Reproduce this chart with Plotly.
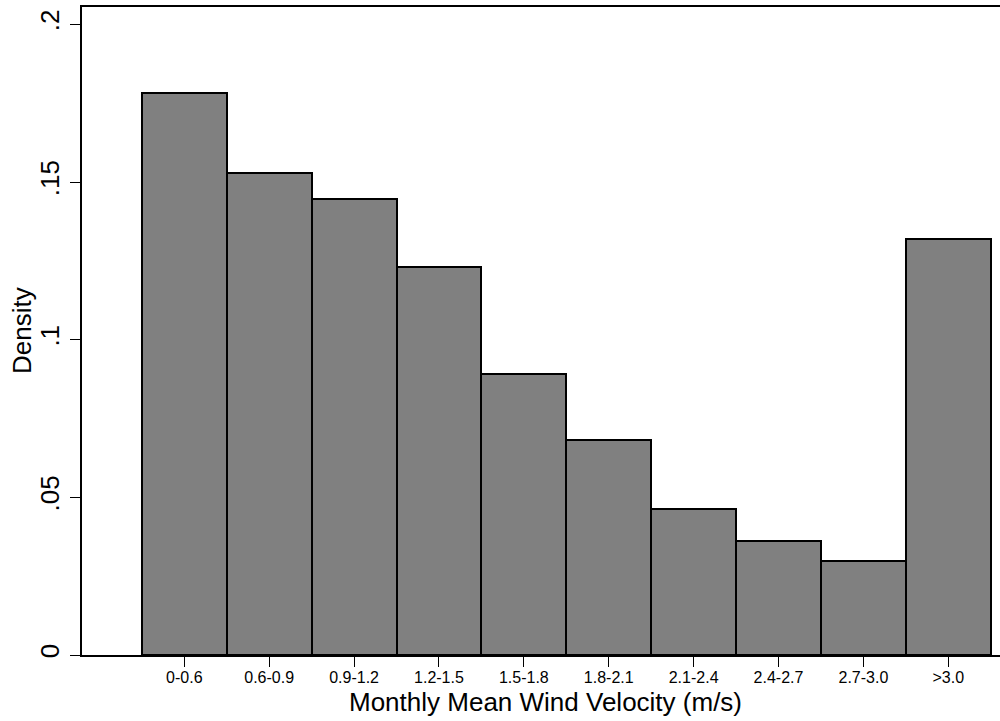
import plotly.graph_objects as go

# Wind velocity bins and their density
bins = ["0-0.6", "0.6-0.9", "0.9-1.2", "1.2-1.5", "1.5-1.8",
        "1.8-2.1", "2.1-2.4", "2.4-2.7", "2.7-3.0", ">3.0"]
density = [0.1783, 0.1529, 0.1445, 0.1231, 0.0890,
           0.0682, 0.0462, 0.0362, 0.0299, 0.1320]

y_tickvals = [0, 0.05, 0.1, 0.15, 0.2]
y_ticktext = ["0", ".05", ".1", ".15", ".2"]

x_title = "Monthly Mean Wind Velocity (m/s)"
y_title = "Density"

FONT = "Liberation Sans, Arial, Helvetica, sans-serif"

fig = go.Figure(
    go.Bar(
        x=bins,
        y=density,
        width=1,
        marker=dict(color="#808080", line=dict(color="black", width=2)),
        hoverinfo="x+y",
    )
)

fig.update_layout(
    width=1000,
    height=721,
    margin=dict(l=82, r=0, t=7, b=66),
    paper_bgcolor="white",
    plot_bgcolor="white",
    showlegend=False,
    bargap=0,
    font=dict(family=FONT, color="black"),
    annotations=[
        # axis titles placed explicitly
        dict(text=x_title, xref="paper", yref="paper", x=0.5, xshift=4,
             y=0, yshift=-47, xanchor="center", yanchor="middle",
             showarrow=False, font=dict(size=26, family=FONT)),
        dict(text=y_title, xref="paper", yref="paper", x=0, xshift=-60,
             y=0.5, xanchor="center", yanchor="middle", textangle=-90,
             showarrow=False, font=dict(size=26, family=FONT)),
    ],
)

fig.update_xaxes(
    type="category",
    range=[-1.205, 9.609],
    showgrid=False,
    zeroline=False,
    showline=True,
    linecolor="black",
    linewidth=1.5,
    mirror=True,
    ticks="outside",
    ticklen=10,
    tickwidth=1.3,
    tickcolor="black",
    tickfont=dict(size=16, family=FONT),
    ticklabelstandoff=-3,
)

fig.update_yaxes(
    range=[0, 0.2055],
    tickvals=y_tickvals,
    ticktext=y_ticktext,
    tickangle=-90,
    showgrid=False,
    zeroline=False,
    showline=True,
    linecolor="black",
    linewidth=1.5,
    ticks="outside",
    ticklen=10,
    tickwidth=1.3,
    tickcolor="black",
    tickfont=dict(size=26, family=FONT),
    ticklabelstandoff=1,
)

fig.write_html("out.html")
